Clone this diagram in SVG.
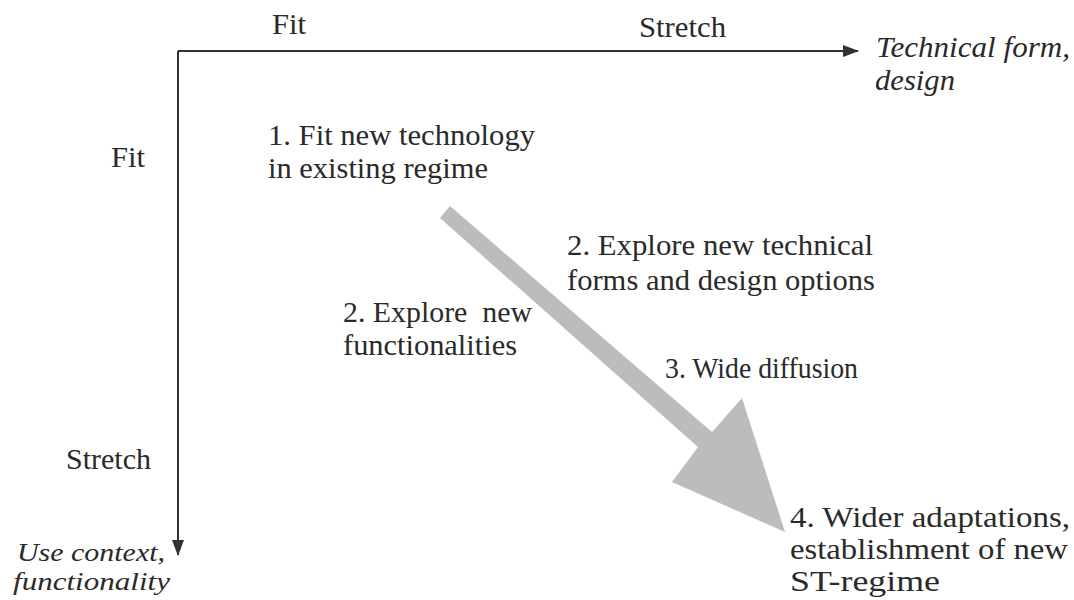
<svg xmlns="http://www.w3.org/2000/svg" width="1074" height="600" viewBox="0 0 1074 600" font-family="Liberation Serif, Tinos, Times New Roman, Times, DejaVu Serif, serif">
  <style>
    text { font-size: 30px; fill: #2a2a2a; }
    .i { font-style: italic; }
    .sm { font-size: 26px; }
    .axis { stroke: #333; stroke-width: 2; fill: none; }
  </style>
  <defs>
    <marker id="tip" viewBox="0 0 16 12" refX="15" refY="6" markerWidth="16" markerHeight="12" markerUnits="userSpaceOnUse" orient="auto">
      <path d="M0,0 L16,6 L0,12 Z" fill="#333"/>
    </marker>
  </defs>
  <rect width="1074" height="600" fill="#fff"/>

  <!-- axes and the broad transition arrow -->
  <g id="connectors">
    <path class="axis" d="M178,51 L858,51" marker-end="url(#tip)"/>
    <path class="axis" d="M178,51 L178,555" marker-end="url(#tip)"/>
    <polygon points="450,206 712,432 742,398 785,532 672,482 698,447 440,218" fill="#bcbcbe"/>
  </g>

  <g id="axis-x-labels">
    <text x="272" y="34" textLength="34" lengthAdjust="spacingAndGlyphs">Fit</text>
    <text x="639" y="37" textLength="87" lengthAdjust="spacingAndGlyphs">Stretch</text>
  </g>
  <g id="axis-x-title">
    <text class="i" x="876" y="57" textLength="194" lengthAdjust="spacingAndGlyphs">Technical form,</text>
    <text class="i" x="875" y="90" textLength="80" lengthAdjust="spacingAndGlyphs">design</text>
  </g>
  <g id="axis-y-labels">
    <text x="111" y="167" textLength="34" lengthAdjust="spacingAndGlyphs">Fit</text>
    <text x="66" y="469" textLength="85" lengthAdjust="spacingAndGlyphs">Stretch</text>
  </g>
  <g id="axis-y-title">
    <text class="i sm" x="17" y="561" textLength="148" lengthAdjust="spacingAndGlyphs">Use context,</text>
    <text class="i sm" x="13" y="590" textLength="157" lengthAdjust="spacingAndGlyphs">functionality</text>
  </g>

  <g id="step1">
    <text x="268" y="145" textLength="267" lengthAdjust="spacingAndGlyphs">1. Fit new technology</text>
    <text x="268" y="178" textLength="220" lengthAdjust="spacingAndGlyphs">in existing regime</text>
  </g>
  <g id="step2-form">
    <text x="567" y="255" textLength="306" lengthAdjust="spacingAndGlyphs">2. Explore new technical</text>
    <text x="567" y="290" textLength="308" lengthAdjust="spacingAndGlyphs">forms and design options</text>
  </g>
  <g id="step2-function">
    <text x="343" y="322" textLength="189" lengthAdjust="spacingAndGlyphs" xml:space="preserve">2. Explore  new</text>
    <text x="343" y="355" textLength="174" lengthAdjust="spacingAndGlyphs">functionalities</text>
  </g>
  <g id="step3">
    <text x="665" y="378" textLength="193" lengthAdjust="spacingAndGlyphs">3. Wide diffusion</text>
  </g>
  <g id="step4">
    <text x="790" y="527" textLength="280" lengthAdjust="spacingAndGlyphs">4. Wider adaptations,</text>
    <text x="790" y="559" textLength="278" lengthAdjust="spacingAndGlyphs">establishment of new</text>
    <text x="790" y="591" textLength="150" lengthAdjust="spacingAndGlyphs">ST-regime</text>
  </g>
</svg>
